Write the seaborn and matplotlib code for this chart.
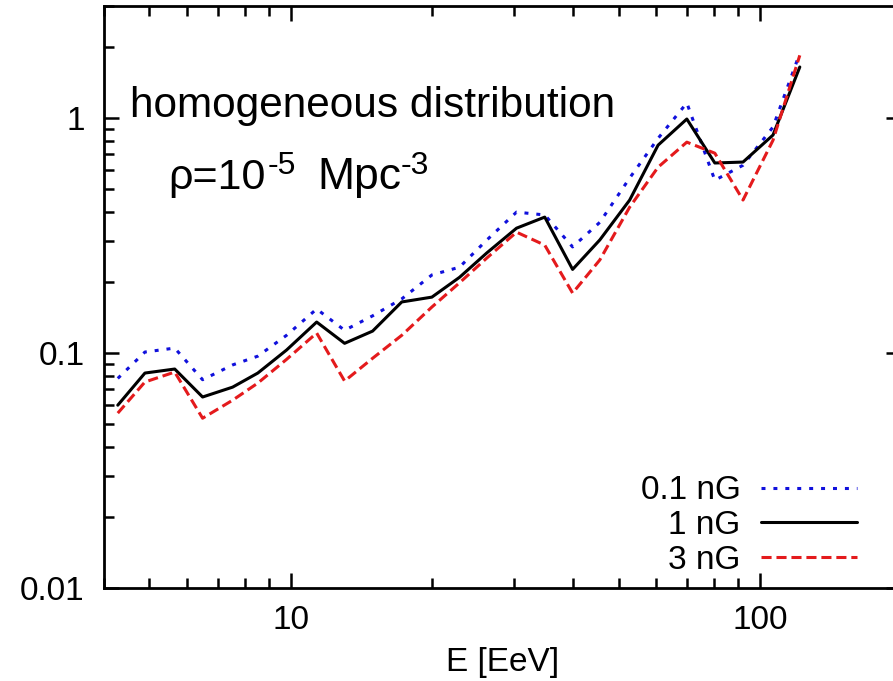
import matplotlib
matplotlib.use("Agg")
import matplotlib.pyplot as plt
import seaborn as sns
import pandas as pd
from matplotlib.ticker import LogLocator, NullFormatter, FixedLocator, FixedFormatter

# Energy bins [EeV]
energy = [4.28, 4.89, 5.66, 6.49, 7.52, 8.51, 9.80, 11.36, 13.03, 14.95,
          17.25, 20.0, 22.9, 26.2, 30.3, 34.8, 39.9, 45.6, 52.8, 60.7,
          69.9, 80.2, 92.1, 106.7, 121.7]

# Ratio for each extragalactic magnetic field strength
flux_01nG = [0.078, 0.101, 0.105, 0.077, 0.089, 0.097, 0.119, 0.154, 0.125, 0.144,
             0.170, 0.215, 0.232, 0.303, 0.398, 0.387, 0.283, 0.360, 0.556, 0.820,
             1.16, 0.544, 0.630, 0.916, 1.89]
flux_1nG = [0.060, 0.0822, 0.0855, 0.065, 0.0716, 0.0822, 0.103, 0.1355, 0.110, 0.124,
            0.165, 0.173, 0.210, 0.267, 0.340, 0.379, 0.227, 0.303, 0.448, 0.767,
            0.991, 0.644, 0.650, 0.847, 1.65]
flux_3nG = [0.0555, 0.0753, 0.083, 0.0528, 0.063, 0.0745, 0.094, 0.1217, 0.076, 0.095,
            0.119, 0.157, 0.199, 0.254, 0.327, 0.288, 0.180, 0.249, 0.418, 0.618,
            0.790, 0.709, 0.448, 0.805, 1.85]

field_labels = ["0.1 nG", "1 nG", "3 nG"]

frames = []
for lab, vals in zip(field_labels, [flux_01nG, flux_1nG, flux_3nG]):
    frames.append(pd.DataFrame({"E": energy, "flux": vals, "B": lab}))
df = pd.concat(frames, ignore_index=True)

sns.set_style("ticks")
plt.rcParams["font.family"] = ["Liberation Sans", "DejaVu Sans"]
for key in ["text.color", "axes.labelcolor", "xtick.color", "ytick.color",
            "axes.edgecolor", "xtick.labelcolor", "ytick.labelcolor"]:
    plt.rcParams[key] = "black"

fig = plt.figure(figsize=(8.93, 6.81), dpi=100)
ax = fig.add_axes([104 / 893, 93 / 681, 797 / 893, 582 / 681])

palette = {"0.1 nG": "#1010dc", "1 nG": "#000000", "3 nG": "#e41a1c"}
dashes = {"0.1 nG": (1.3, 2.6), "1 nG": "", "3 nG": (3.3, 1.6)}
sns.lineplot(data=df, x="E", y="flux", hue="B", style="B", palette=palette,
             dashes=dashes, linewidth=2.2, ax=ax, sort=False, estimator=None)

ax.set_xscale("log")
ax.set_yscale("log")
ax.set_xlim(4, 200)
ax.set_ylim(0.01, 3)

ax.xaxis.set_major_locator(FixedLocator([10, 100]))
ax.xaxis.set_major_formatter(FixedFormatter(["10", "100"]))
ax.xaxis.set_minor_locator(LogLocator(base=10, subs=range(2, 10)))
ax.xaxis.set_minor_formatter(NullFormatter())
ax.yaxis.set_major_locator(FixedLocator([0.01, 0.1, 1]))
ax.yaxis.set_major_formatter(FixedFormatter(["0.01", "0.1", "1"]))
ax.yaxis.set_minor_locator(LogLocator(base=10, subs=range(2, 10)))
ax.yaxis.set_minor_formatter(NullFormatter())

ax.tick_params(which="both", direction="in", top=True, right=True, width=1.8,
               labelsize=24)
ax.tick_params(axis="x", pad=12)
ax.tick_params(axis="y", pad=14)
ax.tick_params(which="major", length=11)
ax.tick_params(which="minor", length=7.5)
ax.tick_params(axis="y", which="minor", right=False)
for sp in ax.spines.values():
    sp.set_linewidth(2.0)

ax.set_xlabel("E [EeV]", fontsize=24, labelpad=8)
ax.set_ylabel("")

# Panel annotation: main line and density with superscript exponents
ax.text(0.033, 0.828, "homogeneous distribution", transform=ax.transAxes,
        fontsize=30.5, va="center", ha="left")
base_y, sup_y = 0.686, 0.712
ax.text(0.080, base_y, "\u03c1=10", transform=ax.transAxes,
        fontsize=31, va="baseline", ha="left")
ax.text(0.205, sup_y, "-5", transform=ax.transAxes,
        fontsize=23, va="baseline", ha="left")
ax.text(0.268, base_y, "Mpc", transform=ax.transAxes,
        fontsize=32, va="baseline", ha="left")
ax.text(0.372, sup_y, "-3", transform=ax.transAxes,
        fontsize=23, va="baseline", ha="left")

handles, labels = ax.get_legend_handles_labels()
leg = ax.legend(handles, labels, loc="lower right", bbox_to_anchor=(0.962, -0.002),
                markerfirst=False, frameon=False, fontsize=24,
                handlelength=2.9, handletextpad=0.6, labelspacing=0.11,
                borderaxespad=0.0)

fig.savefig("out.png", dpi=100)
